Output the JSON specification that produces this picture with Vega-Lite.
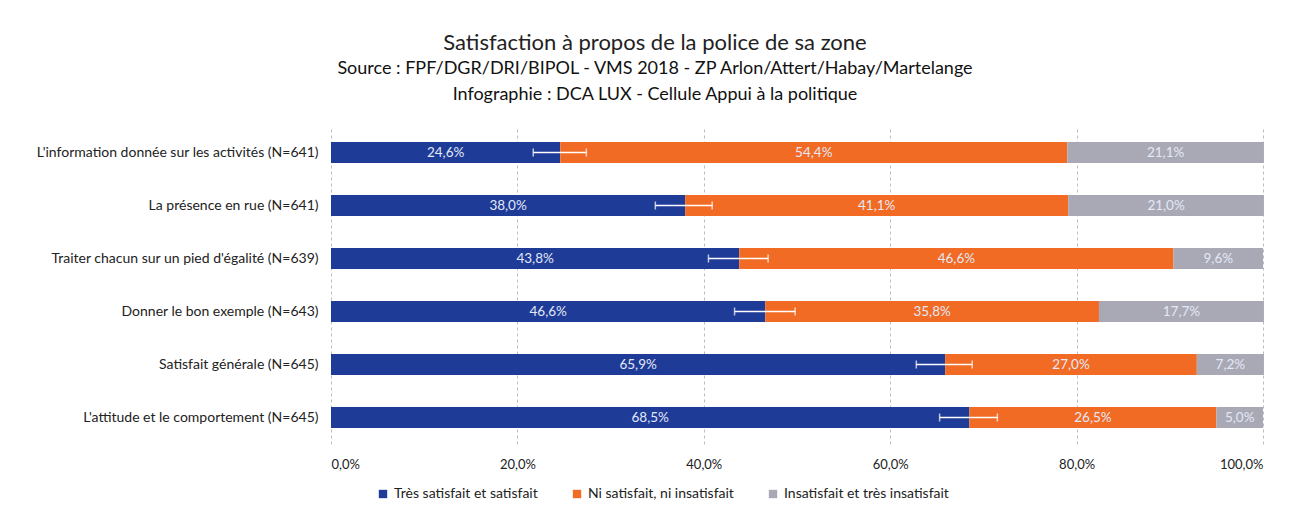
{
  "$schema": "https://vega.github.io/schema/vega-lite/v6.json",
  "width": 932,
  "height": 318,
  "autosize": {"type": "none"},
  "padding": {"left": 331, "top": 126, "right": 34, "bottom": 72},
  "background": "white",
  "title": {
    "text": "Satisfaction à propos de la police de sa zone",
    "subtitle": ["Source : FPF/DGR/DRI/BIPOL - VMS 2018 - ZP Arlon/Attert/Habay/Martelange", "Infographie : DCA LUX - Cellule Appui à la politique"],
    "anchor": "middle",
    "frame": "group",
    "dx": -142,
    "offset": 21,
    "font": "Lato",
    "fontSize": 22,
    "fontWeight": "normal",
    "color": "#222",
    "subtitleFont": "Lato",
    "subtitleFontSize": 18,
    "subtitleFontWeight": "normal",
    "subtitleColor": "#111",
    "subtitleLineHeight": 26,
    "subtitlePadding": 5
  },
  "datasets": {
    "bars": [
      {"q": "L'information donnée sur les activités (N=641)", "cat": "Très satisfait et satisfait", "ord": 1, "v": 24.6},
      {"q": "L'information donnée sur les activités (N=641)", "cat": "Ni satisfait, ni insatisfait", "ord": 2, "v": 54.4},
      {"q": "L'information donnée sur les activités (N=641)", "cat": "Insatisfait et très insatisfait", "ord": 3, "v": 21.1},
      {"q": "La présence en rue (N=641)", "cat": "Très satisfait et satisfait", "ord": 1, "v": 38.0},
      {"q": "La présence en rue (N=641)", "cat": "Ni satisfait, ni insatisfait", "ord": 2, "v": 41.1},
      {"q": "La présence en rue (N=641)", "cat": "Insatisfait et très insatisfait", "ord": 3, "v": 21.0},
      {"q": "Traiter chacun sur un pied d'égalité (N=639)", "cat": "Très satisfait et satisfait", "ord": 1, "v": 43.8},
      {"q": "Traiter chacun sur un pied d'égalité (N=639)", "cat": "Ni satisfait, ni insatisfait", "ord": 2, "v": 46.6},
      {"q": "Traiter chacun sur un pied d'égalité (N=639)", "cat": "Insatisfait et très insatisfait", "ord": 3, "v": 9.6},
      {"q": "Donner le bon exemple (N=643)", "cat": "Très satisfait et satisfait", "ord": 1, "v": 46.6},
      {"q": "Donner le bon exemple (N=643)", "cat": "Ni satisfait, ni insatisfait", "ord": 2, "v": 35.8},
      {"q": "Donner le bon exemple (N=643)", "cat": "Insatisfait et très insatisfait", "ord": 3, "v": 17.7},
      {"q": "Satisfait générale (N=645)", "cat": "Très satisfait et satisfait", "ord": 1, "v": 65.9},
      {"q": "Satisfait générale (N=645)", "cat": "Ni satisfait, ni insatisfait", "ord": 2, "v": 27.0},
      {"q": "Satisfait générale (N=645)", "cat": "Insatisfait et très insatisfait", "ord": 3, "v": 7.2},
      {"q": "L'attitude et le comportement (N=645)", "cat": "Très satisfait et satisfait", "ord": 1, "v": 68.5},
      {"q": "L'attitude et le comportement (N=645)", "cat": "Ni satisfait, ni insatisfait", "ord": 2, "v": 26.5},
      {"q": "L'attitude et le comportement (N=645)", "cat": "Insatisfait et très insatisfait", "ord": 3, "v": 5.0}
    ],
    "err": [
      {"q": "L'information donnée sur les activités (N=641)", "lo": 21.7, "hi": 27.4},
      {"q": "La présence en rue (N=641)", "lo": 34.8, "hi": 40.9},
      {"q": "Traiter chacun sur un pied d'égalité (N=639)", "lo": 40.5, "hi": 46.9},
      {"q": "Donner le bon exemple (N=643)", "lo": 43.3, "hi": 49.8},
      {"q": "Satisfait générale (N=645)", "lo": 62.8, "hi": 68.8},
      {"q": "L'attitude et le comportement (N=645)", "lo": 65.3, "hi": 71.5}
    ]
  },
  "config": {
    "view": {"stroke": null},
    "font": "Lato"
  },
  "layer": [
    {
      "data": {"name": "bars"},
      "transform": [
        {"stack": "v", "groupby": ["q"], "sort": [{"field": "ord", "order": "ascending"}], "as": ["s0", "s1"]}
      ],
      "mark": {"type": "bar", "height": 21},
      "encoding": {
        "y": {
          "field": "q", "type": "nominal", "sort": null,
          "scale": {"paddingInner": 0.6, "paddingOuter": 0.3},
          "axis": {"title": null, "ticks": false, "domain": false, "labelFontSize": 14, "labelColor": "#222", "labelPadding": 13, "labelLimit": 400}
        },
        "x": {
          "field": "s0", "type": "quantitative",
          "scale": {"domain": [0, 100], "nice": false},
          "axis": {
            "title": null, "values": [0, 20, 40, 60, 80, 100],
            "labelExpr": "replace(format(datum.value, '.1f'), '.', ',') + '%'",
            "labelFontSize": 13, "labelColor": "#222", "labelPadding": 14,
            "ticks": false, "domain": false,
            "grid": true, "gridDash": [3, 3], "gridColor": "#bdbdbd"
          }
        },
        "x2": {"field": "s1"},
        "color": {
          "field": "cat", "type": "nominal",
          "scale": {
            "domain": ["Très satisfait et satisfait", "Ni satisfait, ni insatisfait", "Insatisfait et très insatisfait"],
            "range": ["#1e3b98", "#f26b24", "#a9a9b5"]
          },
          "legend": {
            "title": null, "orient": "none", "legendX": 45, "legendY": 361, "direction": "horizontal",
            "symbolType": "square", "symbolSize": 70, "symbolStrokeWidth": 0,
            "labelFontSize": 14, "labelColor": "#222", "columnPadding": 32,
            "labelLimit": 300
          }
        },
        "order": {"field": "ord"}
      }
    },
    {
      "data": {"name": "bars"},
      "transform": [
        {"stack": "v", "groupby": ["q"], "sort": [{"field": "ord", "order": "ascending"}], "as": ["s0", "s1"]},
        {"calculate": "(datum.s0 + datum.s1) / 2", "as": "mid"},
        {"calculate": "replace(format(datum.v, '.1f'), '.', ',') + '%'", "as": "lab"}
      ],
      "mark": {"type": "text", "fontSize": 13.5, "color": "#e3e8f7", "baseline": "middle", "align": "center"},
      "encoding": {
        "y": {"field": "q", "type": "nominal", "sort": null},
        "x": {"field": "mid", "type": "quantitative"},
        "text": {"field": "lab"}
      }
    },
    {
      "data": {"name": "err"},
      "mark": {"type": "rule", "color": "white", "strokeWidth": 1.5},
      "encoding": {
        "y": {"field": "q", "type": "nominal", "sort": null},
        "x": {"field": "lo", "type": "quantitative"},
        "x2": {"field": "hi"}
      }
    },
    {
      "data": {"name": "err"},
      "mark": {"type": "tick", "color": "white", "thickness": 1.5, "size": 8, "orient": "vertical"},
      "encoding": {
        "y": {"field": "q", "type": "nominal", "sort": null},
        "x": {"field": "lo", "type": "quantitative"}
      }
    },
    {
      "data": {"name": "err"},
      "mark": {"type": "tick", "color": "white", "thickness": 1.5, "size": 8, "orient": "vertical"},
      "encoding": {
        "y": {"field": "q", "type": "nominal", "sort": null},
        "x": {"field": "hi", "type": "quantitative"}
      }
    }
  ]
}
